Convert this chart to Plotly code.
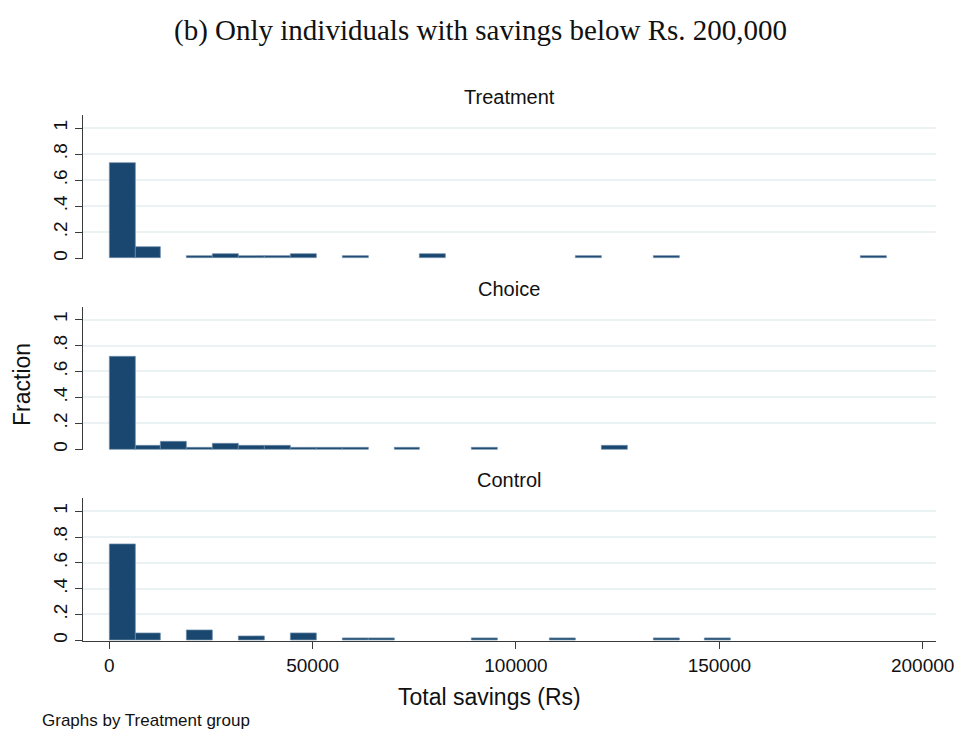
import plotly.graph_objects as go

# Histogram bins shared by all three groups (Rs)
bin_start = 0
bin_width = 6370
n_bins = 30

groups = ["Treatment", "Choice", "Control"]

# Fraction of individuals per bin, one list per group
frac_treatment = [0.728, 0.087, 0, 0.017, 0.033, 0.017, 0.017, 0.033, 0, 0.017,
                  0, 0, 0.033, 0, 0, 0, 0, 0, 0.017, 0,
                  0, 0.017, 0, 0, 0, 0, 0, 0, 0, 0.017]
frac_choice = [0.711, 0.029, 0.058, 0.0145, 0.0435, 0.029, 0.029, 0.0145, 0.0145, 0.0145,
               0, 0.0145, 0, 0, 0.0145, 0, 0, 0, 0, 0.029,
               0, 0, 0, 0, 0, 0, 0, 0, 0, 0]
frac_control = [0.742, 0.055, 0, 0.08, 0, 0.03, 0, 0.055, 0, 0.016,
                0.016, 0, 0, 0, 0.016, 0, 0, 0.016, 0, 0,
                0, 0.016, 0, 0.016, 0, 0, 0, 0, 0, 0]

x_ticks = [0, 50000, 100000, 150000, 200000]
y_ticks = [0, 0.2, 0.4, 0.6, 0.8, 1]
y_tick_text = ["0", ".2", ".4", ".6", ".8", "1"]

bar_color = "#1a476f"
bar_edge = "#6f8dab"
grid_color = "#eaf2f3"
axis_color = "#3a3a3a"
sans = "Liberation Sans, Arial, sans-serif"

bin_left = [bin_start + i * bin_width for i in range(n_bins)]

fig = go.Figure()
series = [frac_treatment, frac_choice, frac_control]
for i, (name, vals) in enumerate(zip(groups, series), start=1):
    # empty bins are left undrawn
    xs = [x for x, v in zip(bin_left, vals) if v > 0]
    ys = [v for v in vals if v > 0]
    fig.add_trace(go.Bar(
        x=xs, y=ys, width=bin_width, offset=0,
        marker=dict(color=bar_color, line=dict(color=bar_edge, width=0.7)),
        name=name, showlegend=False,
        xaxis="x" if i == 1 else f"x{i}", yaxis="y" if i == 1 else f"y{i}",
    ))

x_dom = [82.7 / 960, 935.7 / 960]
panels_px = [(115, 259), (306.7, 450), (498.3, 641)]
H = 738
y_range = [-0.006, 1.1]

layout = dict(
    width=960, height=738,
    margin=dict(l=0, r=0, t=0, b=0, autoexpand=False),
    paper_bgcolor="white", plot_bgcolor="white",
    bargap=0,
    font=dict(family=sans, color="#111"),
)

for i, (top, bot) in enumerate(panels_px, start=1):
    xs = "xaxis" if i == 1 else f"xaxis{i}"
    ys = "yaxis" if i == 1 else f"yaxis{i}"
    last = i == 3
    layout[xs] = dict(
        domain=x_dom, range=[-6540, 203200],
        anchor="y" if i == 1 else f"y{i}",
        automargin=False,
        showgrid=False, zeroline=False,
        showline=last, linecolor=axis_color, linewidth=1.2,
        ticks="outside" if last else "", ticklen=7, tickcolor=axis_color,
        tickvals=x_ticks, ticktext=[str(v) for v in x_ticks],
        showticklabels=last, tickfont=dict(size=19),
    )
    layout[ys] = dict(
        domain=[1 - bot / H, 1 - top / H], range=y_range,
        anchor="x" if i == 1 else f"x{i}",
        automargin=False,
        showgrid=True, gridcolor=grid_color, gridwidth=1.5,
        zeroline=False,
        showline=True, linecolor=axis_color, linewidth=1.2,
        ticks="outside", ticklen=7, tickcolor=axis_color,
        tickvals=y_ticks, ticktext=y_tick_text,
        tickangle=-90, tickfont=dict(size=19),
    )


def label(text, x_px, y_px, size, xanchor="center", family=None, angle=0):
    font = dict(size=size)
    if family:
        font["family"] = family
    return dict(text=text, x=x_px / 960, y=1 - y_px / H, xref="paper", yref="paper",
                xanchor=xanchor, yanchor="middle", showarrow=False,
                textangle=angle, font=font)


annotations = [
    label("(b) Only individuals with savings below Rs. 200,000", 480, 30, 29,
          family="Liberation Serif, DejaVu Serif, serif"),
    label("Fraction", 22, 385, 23, angle=-90),
    label("Total savings (Rs)", 490, 697, 23),
    label("Graphs by Treatment group", 40, 720, 17, xanchor="left"),
]
cx = (82.7 + 935.7) / 2
for name, (top, bot) in zip(groups, panels_px):
    annotations.append(label(name, cx, top - 18, 20))
layout["annotations"] = annotations

fig.update_layout(**layout)
fig.write_html("out.html")
